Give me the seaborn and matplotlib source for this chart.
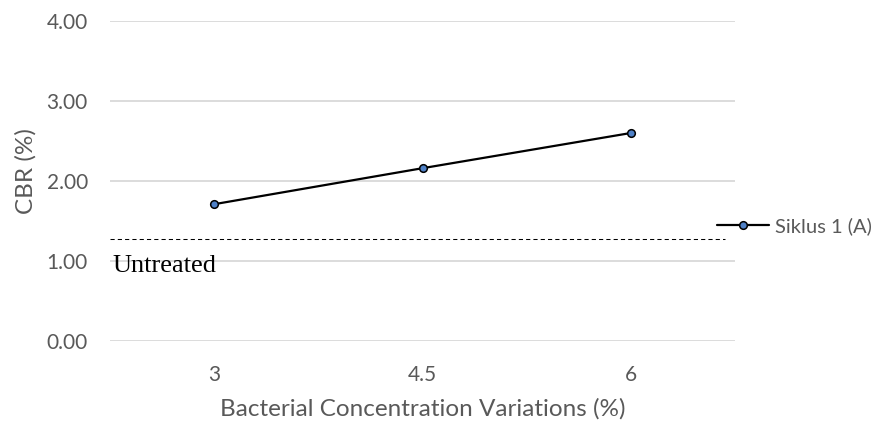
import matplotlib
matplotlib.use("Agg")
import matplotlib.pyplot as plt
import seaborn as sns
import pandas as pd

concentrations = [3, 4.5, 6]
cbr_values = [1.71, 2.16, 2.60]
untreated_cbr = 1.28
series_name = "Siklus 1 (A)"
y_ticks = [0, 1, 2, 3, 4]
x_labels = ["3", "4.5", "6"]

sns.set_theme(style="white")
plt.rcParams['font.family'] = ['Lato', 'DejaVu Sans']

df = pd.DataFrame({"x": concentrations, "y": cbr_values, "series": series_name})

fig = plt.figure(figsize=(8.81, 4.28), dpi=100)
ax = fig.add_axes([110/881, 1 - 341/428, 625/881, 320/428])

sns.lineplot(data=df, x="x", y="y", hue="series", palette=["black"], marker="o",
             markersize=5.5, markerfacecolor="#4F81C7", markeredgecolor="black",
             markeredgewidth=1.1, linewidth=1.6, ax=ax)

ax.axhline(untreated_cbr, xmin=0, xmax=0.984, color="black", linestyle=(0, (4, 3)), linewidth=0.75)
ax.text(2.27, 0.86, "Untreated", family="Liberation Serif", fontsize=19,
        va="baseline", ha="left", color="black")

ax.set_xlim(2.25, 6.75)
ax.set_ylim(0, 4)
ax.set_xticks(concentrations)
ax.set_xticklabels(x_labels)
ax.set_yticks(y_ticks)
ax.set_yticklabels([f"{v:.2f}" for v in y_ticks])
ax.yaxis.grid(True, color="#d9d9d9", linewidth=1.3)
for s in ax.spines.values():
    s.set_visible(False)
ax.tick_params(axis="both", length=0, labelsize=15, labelcolor="#595959")
ax.tick_params(axis="y", pad=16)
ax.tick_params(axis="x", pad=17)
ax.set_xlabel("Bacterial Concentration Variations (%)", fontsize=17.5, color="#595959", labelpad=10)
ax.set_ylabel("CBR (%)", fontsize=17.5, color="#595959")
ax.yaxis.set_label_coords(-0.118, 0.53)

leg = ax.legend(loc="center left", bbox_to_anchor=(0.971, 0.36), frameon=False, fontsize=14.5,
                handlelength=2.6, handletextpad=0.3, borderaxespad=0, borderpad=0)
for t in leg.get_texts():
    t.set_color("#595959")

fig.savefig("out.png", dpi=100)
